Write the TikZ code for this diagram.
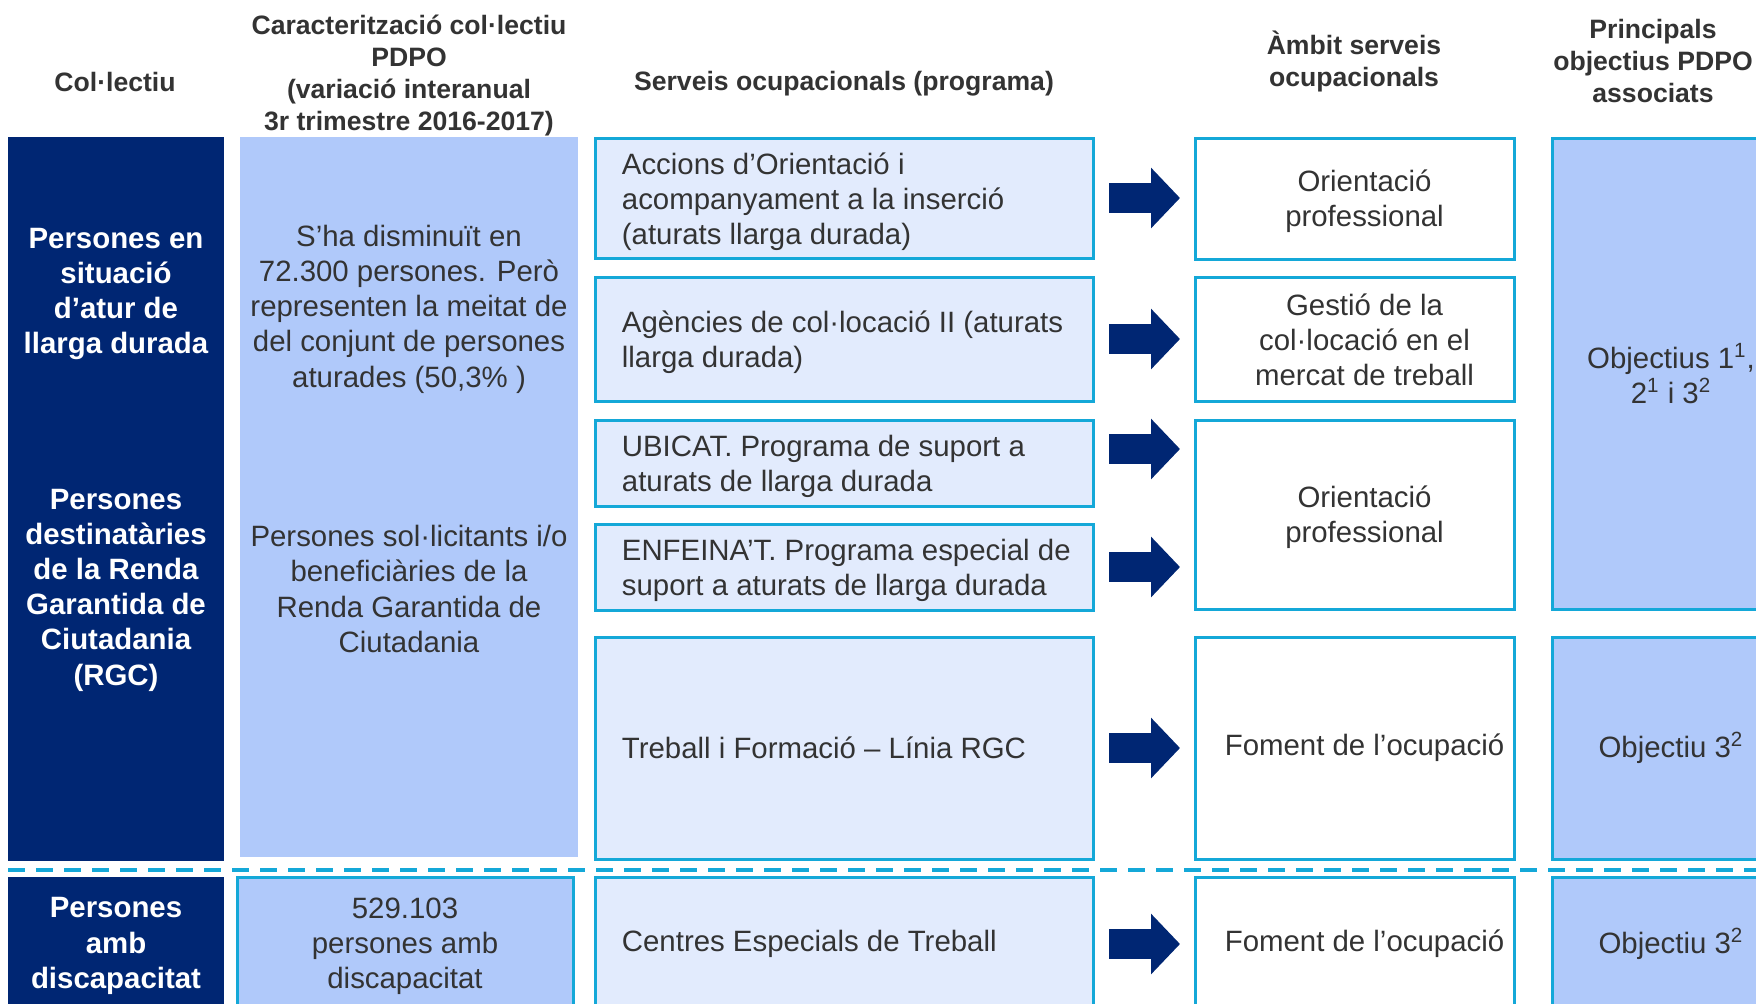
\documentclass[tikz,border=0pt]{standalone}
\usepackage{fontspec}
\setmainfont{Liberation Sans}
\usetikzlibrary{arrows.meta}
\definecolor{navy}{RGB}{0,38,115}
\definecolor{lblue}{RGB}{176,201,250}
\definecolor{lav}{RGB}{226,235,253}
\definecolor{cyanline}{RGB}{20,168,216}
\definecolor{txtgray}{RGB}{51,51,51}
\newcommand{\bodyfont}{\fontsize{14.7pt}{17.6pt}\selectfont}
\newcommand{\headfont}{\fontsize{13.3pt}{16pt}\selectfont\bfseries}
\begin{document}
\begin{tikzpicture}[x=0.5pt, y=-0.5pt,
  colbox/.style={fill=navy, minimum width=108pt, inner sep=0pt},
  coltext/.style={text=white, font=\bodyfont\bfseries, align=center, inner sep=0pt},
  carbox/.style={fill=lblue, minimum width=169pt, inner sep=0pt},
  cartext/.style={text=txtgray, font=\bodyfont, align=center, inner sep=0pt},
  progbox/.style={draw=cyanline, fill=lav, line width=1.5pt, minimum width=249pt, inner sep=0pt},
  progtext/.style={anchor=west, text=txtgray, font=\bodyfont, align=left, inner sep=0pt},
  ambitbox/.style={draw=cyanline, fill=white, line width=1.5pt, minimum width=159.5pt},
  ambtext/.style={text=txtgray, font=\bodyfont, align=center, inner sep=0pt},
  objbox/.style={draw=cyanline, fill=lblue, line width=1.5pt, minimum width=119pt, align=center, text=txtgray, font=\bodyfont},
  headtext/.style={text=txtgray, font=\headfont, align=center},
  bigarrow/.style={navy, line width=15pt, -{Triangle[length=14.5pt, width=29.5pt]}}
]
  \clip (0,0) rectangle (1756,1003);

  % Headers
  \node[headtext] (hcol) at (115,82) {Col·lectiu};
  \node[headtext] (hcar) at (409,75) {Caracterització col·lectiu\\PDPO\\(variació interanual\\3r trimestre 2016-2017)};
  \node[headtext] (hserv) at (844,84) {Serveis ocupacionals (programa)};
  \node[headtext] (hamb) at (1354,61) {Àmbit serveis\\ocupacionals};
  \node[headtext] (hobj) at (1653,61) {Principals\\objectius PDPO\\associats};

  % Col·lectiu
  \node[colbox, minimum height=154pt] (cola) at (116,291) {};
  \node[colbox, minimum height=208pt] (colb) at (116,653) {};
  \node[coltext] (tcola) at (116,294) {Persones en\\situació\\d’atur de\\llarga durada};
  \node[coltext] (tcolb) at (116,590) {Persones\\destinatàries\\de la Renda\\Garantida de\\Ciutadania\\(RGC)};

  % Caracteritzacio
  \node[carbox, minimum height=184pt] (cara) at (409,321) {};
  \node[carbox, minimum height=176pt] (carb) at (409,681) {};
  \node[cartext] (tcara) at (409,309) {S’ha disminuït en\\72.300 persones. Però\\representen la meitat de\\del conjunt de persones\\aturades (50,3\% )};
  \node[cartext] (tcarb) at (409,589) {Persones sol·licitants i/o\\beneficiàries de la\\Renda Garantida de\\Ciutadania};

  % Divider
  \coordinate (divl) at (8,870);
  \coordinate (divr) at (1760,870);
  \draw[cyanline, line width=1.65pt, dash pattern=on 8.5pt off 5.5pt] (divl) -- (divr);

  % Bottom row
  \node[colbox, minimum height=67pt] (colc) at (116,944) {};
  \node[coltext] (tcolc) at (116,946) {Persones\\amb\\discapacitat};
  \node[carbox, draw=cyanline, line width=1.5pt, minimum width=168pt, minimum height=67pt] (carc) at (405,944) {};
  \node[cartext] (tcarc) at (405,946) {529.103\\persones amb\\discapacitat};

  % Serveis ocupacionals
  \node[progbox, minimum height=60pt] (proga) at (844,198) {};
  \node[progbox, minimum height=62pt] (progb) at (844,339) {};
  \node[progbox, minimum height=43pt] (progc) at (844,463) {};
  \node[progbox, minimum height=43pt] (progd) at (844,567) {};
  \node[progbox, minimum height=111pt] (proge) at (844,748) {};
  \node[progbox, minimum height=66.5pt] (progf) at (844,944) {};
  \node[progtext] (tproga) at ([xshift=14pt,yshift=-2pt]proga.west) {Accions d’Orientació i\\acompanyament a la inserció\\(aturats llarga durada)};
  \node[progtext] (tprogb) at ([xshift=14pt,yshift=-1.5pt]progb.west) {Agències de col·locació II (aturats\\llarga durada)};
  \node[progtext] (tprogc) at ([xshift=14pt,yshift=-1.5pt]progc.west) {UBICAT. Programa de suport a\\aturats de llarga durada};
  \node[progtext] (tprogd) at ([xshift=14pt,yshift=-1.5pt]progd.west) {ENFEINA’T. Programa especial de\\suport a aturats de llarga durada};
  \node[progtext] (tproge) at ([xshift=14pt]proge.west) {Treball i Formació – Línia RGC};
  \node[progtext] (tprogf) at ([xshift=14pt]progf.west) {Centres Especials de Treball};

  % Ambit
  \node[ambitbox, minimum height=60.5pt] (amba) at (1354.5,198.5) {};
  \node[ambitbox, minimum height=62pt] (ambb) at (1354.5,339) {};
  \node[ambitbox, minimum height=94.5pt] (ambc) at (1354.5,514.5) {};
  \node[ambitbox, minimum height=111pt] (ambd) at (1354.5,748) {};
  \node[ambitbox, minimum height=66.5pt] (ambe) at (1354.5,944) {};
  \node[ambtext] (tamba) at ([xshift=5pt,yshift=-1.5pt]amba.center) {Orientació\\professional};
  \node[ambtext] (tambb) at ([xshift=5pt,yshift=-0.5pt]ambb.center) {Gestió de la\\col·locació en el\\mercat de treball};
  \node[ambtext] (tambc) at ([xshift=5pt,yshift=-1.5pt]ambc.center) {Orientació\\professional};
  \node[ambtext] (tambd) at ([xshift=5pt]ambd.center) {Foment de l’ocupació};
  \node[ambtext] (tambe) at ([xshift=5pt]ambe.center) {Foment de l’ocupació};

  % Objectius
  \node[objbox, minimum height=235.5pt] (obja) at (1671,373.5) {Objectius 1\textsuperscript{1},\\2\textsuperscript{1} i 3\textsuperscript{2}};
  \node[objbox, minimum height=111pt] (objb) at (1671,748) {Objectiu 3\textsuperscript{2}};
  \node[objbox, minimum height=66.5pt] (objc) at (1671,944) {Objectiu 3\textsuperscript{2}};

  % Arrows
  \draw[bigarrow] ([xshift=7.25pt]proga.east) -- ([xshift=-6.75pt]proga.east -| amba.west);
  \draw[bigarrow] ([xshift=7.25pt]progb.east) -- ([xshift=-6.75pt]progb.east -| ambb.west);
  \draw[bigarrow] ([xshift=7.25pt,yshift=7pt]progc.east) -- ([xshift=-6.75pt,yshift=7pt]progc.east -| ambc.west);
  \draw[bigarrow] ([xshift=7.25pt]progd.east) -- ([xshift=-6.75pt]progd.east -| ambc.west);
  \draw[bigarrow] ([xshift=7.25pt]proge.east) -- ([xshift=-6.75pt]proge.east -| ambd.west);
  \draw[bigarrow] ([xshift=7.25pt]progf.east) -- ([xshift=-6.75pt]progf.east -| ambe.west);
\end{tikzpicture}
\end{document}
